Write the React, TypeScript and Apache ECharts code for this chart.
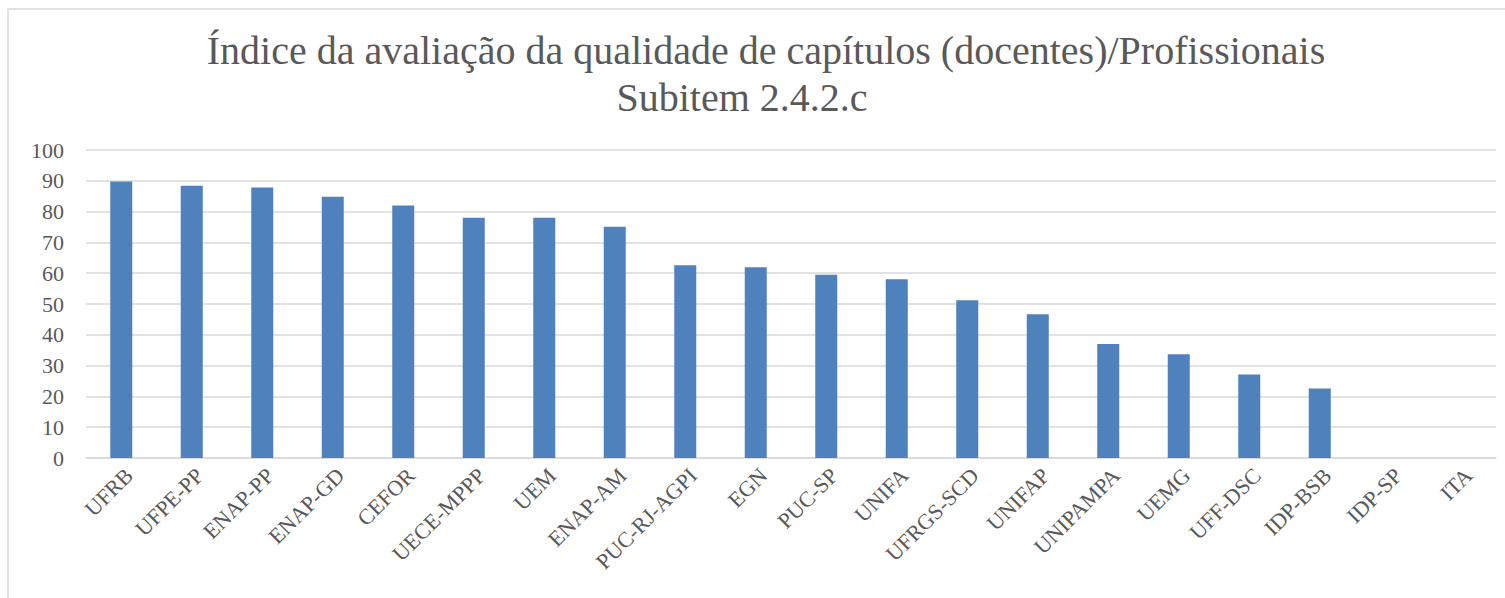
import React, { useEffect, useRef } from "react";
import * as echarts from "echarts";

const titleLine1 = "Índice da avaliação da qualidade de capítulos (docentes)/Profissionais";
const titleLine2 = "Subitem 2.4.2.c";

const categories = [
  "UFRB", "UFPE-PP", "ENAP-PP", "ENAP-GD", "CEFOR", "UECE-MPPP", "UEM", "ENAP-AM",
  "PUC-RJ-AGPI", "EGN", "PUC-SP", "UNIFA", "UFRGS-SCD", "UNIFAP", "UNIPAMPA", "UEMG",
  "UFF-DSC", "IDP-BSB", "IDP-SP", "ITA",
];

const values = [
  89.8, 88.4, 87.8, 84.8, 82.0, 78.0, 78.0, 75.1,
  62.6, 61.9, 59.5, 58.0, 51.2, 46.7, 37.0, 33.7,
  27.1, 22.6, 0, 0,
];

const yMin = 0;
const yMax = 100;
const yStep = 10;

const FONT = "'Liberation Serif', 'DejaVu Serif', serif";
const TEXT = "#595959";
const GRID = "#d9d9d9";

export default function App() {
  const ref = useRef<HTMLDivElement>(null);
  useEffect(() => {
    if (!ref.current) return;
    const chart = echarts.init(ref.current, undefined, { renderer: "svg" });
    chart.setOption({
      animation: false,
      backgroundColor: "#ffffff",
      graphic: [
        {
          type: "rect",
          shape: { x: 8, y: 9, width: 1520, height: 620 },
          style: { fill: "none", stroke: GRID, lineWidth: 1.5 },
          silent: true,
        },
        {
          type: "text",
          x: 766,
          y: 50,
          silent: true,
          style: {
            text: titleLine1,
            fontFamily: FONT,
            fontSize: 40,
            fill: TEXT,
            align: "center",
            verticalAlign: "middle",
          },
        },
        {
          type: "text",
          x: 742,
          y: 97,
          silent: true,
          style: {
            text: titleLine2,
            fontFamily: FONT,
            fontSize: 40,
            fill: TEXT,
            align: "center",
            verticalAlign: "middle",
          },
        },
      ],
      grid: { left: 86, right: 9, top: 150, bottom: 140 },
      xAxis: {
        type: "category",
        data: categories,
        axisLine: { show: true, lineStyle: { color: GRID, width: 1.5 } },
        axisTick: { show: false },
        axisLabel: {
          rotate: 45,
          interval: 0,
          margin: 6,
          verticalAlign: "top",
          fontFamily: FONT,
          fontSize: 22,
          color: TEXT,
        },
      },
      yAxis: {
        type: "value",
        min: yMin,
        max: yMax,
        interval: yStep,
        axisLine: { show: false },
        axisTick: { show: false },
        splitLine: { lineStyle: { color: GRID, width: 1.5 } },
        axisLabel: {
          margin: 22,
          fontFamily: FONT,
          fontSize: 22,
          color: TEXT,
        },
      },
      series: [
        {
          type: "bar",
          data: values,
          barWidth: 22,
          itemStyle: { color: "#4f81bd" },
        },
      ],
    });
    return () => chart.dispose();
  }, []);
  return (
    <div
      ref={ref}
      style={{ position: "absolute", left: 0, top: 0, width: 1505, height: 598 }}
    />
  );
}
